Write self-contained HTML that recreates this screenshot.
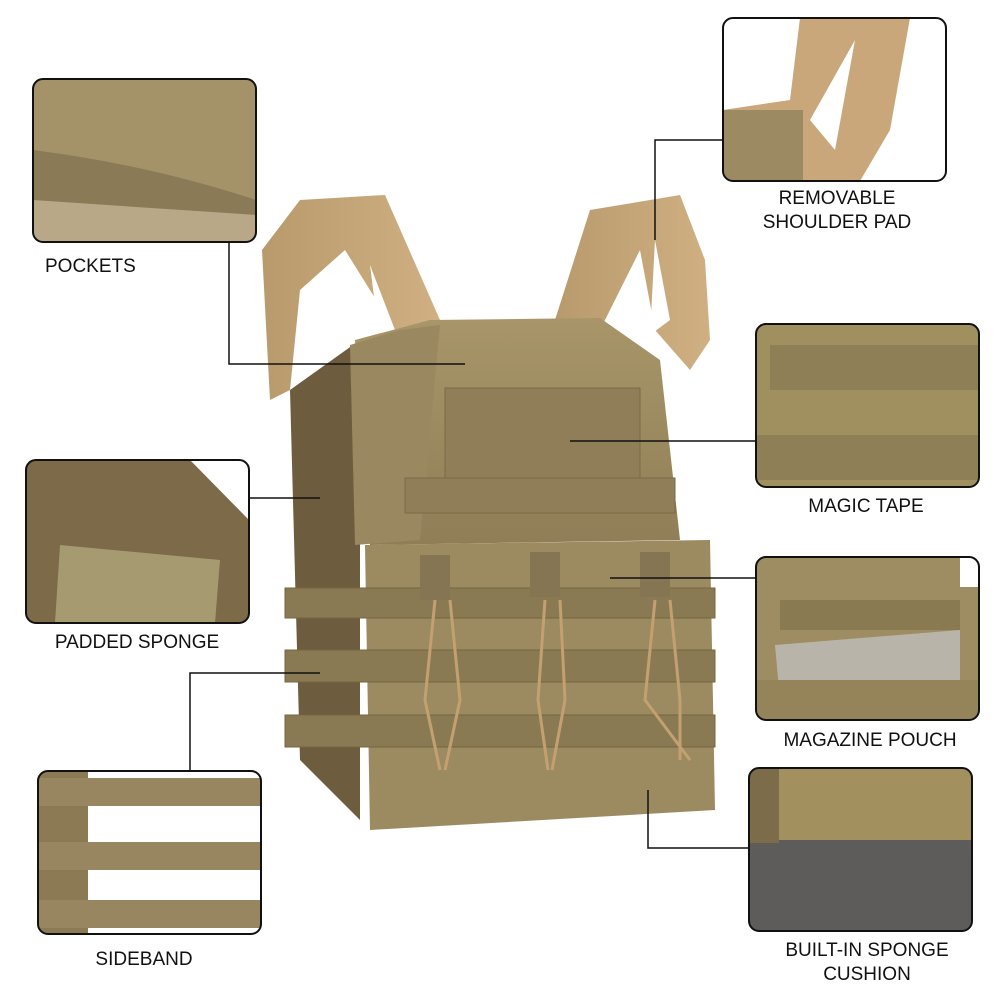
<!DOCTYPE html>
<html><head><meta charset="utf-8"><style>
html,body{margin:0;padding:0;background:#fff;}
body{width:1000px;height:1000px;position:relative;overflow:hidden;font-family:"Liberation Sans",sans-serif;}
.l{position:absolute;font-size:19px;color:#111;text-align:center;line-height:24px;white-space:nowrap;}
</style></head><body>
<svg width="1000" height="1000" style="position:absolute;left:0;top:0">
<defs>
<linearGradient id="g1" x1="0" y1="0" x2="0" y2="1"><stop offset="0" stop-color="#a8966a"/><stop offset="1" stop-color="#8f7e56"/></linearGradient>
<linearGradient id="st" x1="0" y1="0" x2="1" y2="0"><stop offset="0" stop-color="#b89a6c"/><stop offset="1" stop-color="#d0b083"/></linearGradient>
<clipPath id="c1"><rect x="33" y="79" width="223" height="163" rx="10"/></clipPath>
<clipPath id="c2"><rect x="723" y="18" width="223" height="163" rx="10"/></clipPath>
<clipPath id="c3"><rect x="756" y="324" width="223" height="163" rx="10"/></clipPath>
<clipPath id="c4"><rect x="26" y="460" width="223" height="163" rx="10"/></clipPath>
<clipPath id="c5"><rect x="756" y="557" width="223" height="163" rx="10"/></clipPath>
<clipPath id="c6"><rect x="38" y="771" width="223" height="163" rx="10"/></clipPath>
<clipPath id="c7"><rect x="749" y="768" width="223" height="163" rx="10"/></clipPath>
</defs>
<!-- vest straps -->
<path d="M262,250 L300,200 L385,195 L440,320 L395,330 L345,250 L300,290 L290,390 L270,400 Z" fill="url(#st)"/>
<path d="M555,320 L590,210 L680,195 L705,260 L710,340 L690,370 L655,330 L640,250 L600,330 Z" fill="url(#st)"/>
<path d="M370,265 L395,330 L380,345 Z M655,240 L670,320 L650,335 Z" fill="#fff"/>
<path d="M300,330 L330,360 L305,395 Z" fill="#fff"/>
<!-- side mesh -->
<path d="M290,390 L360,340 L360,820 L300,760 Z" fill="#6e5c3e"/>
<!-- back upper panel -->
<path d="M355,340 L430,320 L600,318 L660,360 L680,540 L370,545 Z" fill="url(#g1)"/>
<path d="M350,345 L400,330 L440,325 L420,540 L355,545 Z" fill="#9a8860"/>
<!-- velcro -->
<rect x="445" y="388" width="195" height="90" fill="#8f7e58" stroke="#7a6a48"/>
<rect x="405" y="478" width="270" height="35" fill="#8f7e58" stroke="#7a6a48"/>
<!-- lower pouch panel -->
<path d="M365,545 L710,540 L715,810 L370,830 Z" fill="#9c8a60"/>
<g fill="#8a7a54" stroke="#74663f">
<rect x="285" y="588" width="430" height="30"/>
<rect x="285" y="650" width="430" height="32"/>
<rect x="285" y="715" width="430" height="32"/>
</g>
<g fill="#857552"><rect x="420" y="555" width="30" height="45"/><rect x="530" y="552" width="30" height="45"/><rect x="640" y="552" width="30" height="45"/></g>
<g stroke="#c4a070" stroke-width="3" fill="none"><path d="M435,600 L425,700 L440,770 M450,600 L460,700 L445,770"/><path d="M545,600 L538,700 L548,770 M560,600 L565,700 L552,770"/><path d="M655,600 L645,700 L690,760 M670,600 L680,700 L680,760"/></g>
<!-- callout images -->
<g clip-path="url(#c1)"><rect x="33" y="79" width="223" height="163" fill="#a49268"/><path d="M33,150 Q150,165 256,200 L256,242 L33,242 Z" fill="#8a7a56"/><path d="M33,200 L256,215 L256,242 L33,242Z" fill="#b8a888"/></g>
<g clip-path="url(#c2)"><rect x="723" y="18" width="223" height="163" fill="#fff"/><path d="M723,110 L790,100 L800,18 L910,18 L890,130 L860,181 L723,181 Z" fill="#c9a77a"/><path d="M810,120 L855,40 L835,150 Z" fill="#fff"/><rect x="723" y="110" width="80" height="71" fill="#9c8a62"/></g>
<g clip-path="url(#c3)"><rect x="756" y="324" width="223" height="163" fill="#a0905f"/><rect x="770" y="345" width="209" height="45" fill="#8f7f56"/><rect x="756" y="435" width="223" height="45" fill="#8f7f56"/></g>
<g clip-path="url(#c4)"><rect x="26" y="460" width="223" height="163" fill="#7c6a48"/><path d="M60,545 L220,560 L215,623 L55,623Z" fill="#a69a70"/><path d="M190,460 L249,460 L249,520 Z" fill="#fff"/></g>
<g clip-path="url(#c5)"><rect x="756" y="557" width="223" height="163" fill="#9e8c62"/><rect x="780" y="600" width="180" height="30" fill="#8a7a52"/><path d="M775,645 L960,630 L960,690 L780,700 Z" fill="#b9b4aa"/><rect x="756" y="680" width="223" height="40" fill="#95845a"/><rect x="960" y="557" width="19" height="30" fill="#fff"/></g>
<g clip-path="url(#c6)"><rect x="38" y="771" width="223" height="163" fill="#fff"/><rect x="38" y="771" width="50" height="163" fill="#8b7a54"/><g fill="#978660"><rect x="38" y="778" width="223" height="28"/><rect x="38" y="842" width="223" height="28"/><rect x="38" y="900" width="223" height="28"/></g></g>
<g clip-path="url(#c7)"><rect x="749" y="768" width="223" height="163" fill="#a2915f"/><path d="M749,840 L972,840 L972,931 L749,931Z" fill="#5d5c5a"/><rect x="749" y="768" width="30" height="75" fill="#7c6c4a"/></g>
<g fill="none" stroke="#111" stroke-width="2">
<rect x="33" y="79" width="223" height="163" rx="10"/>
<rect x="723" y="18" width="223" height="163" rx="10"/>
<rect x="756" y="324" width="223" height="163" rx="10"/>
<rect x="26" y="460" width="223" height="163" rx="10"/>
<rect x="756" y="557" width="223" height="163" rx="10"/>
<rect x="38" y="771" width="223" height="163" rx="10"/>
<rect x="749" y="768" width="223" height="163" rx="10"/>
</g>
<g fill="none" stroke="#111" stroke-width="1.5">
<path d="M229,242 V364 H465"/>
<path d="M723,140 H655 V240"/>
<path d="M570,441 H756"/>
<path d="M249,498 H320"/>
<path d="M610,578 H756"/>
<path d="M190,771 V673 H320"/>
<path d="M648,790 V848 H749"/>
</g>
</svg>
<div class="l" style="left:45px;top:255px;text-align:left">POCKETS</div>
<div class="l" style="left:737px;top:187px;width:200px">REMOVABLE<br>SHOULDER PAD</div>
<div class="l" style="left:766px;top:495px;width:200px">MAGIC TAPE</div>
<div class="l" style="left:37px;top:631px;width:200px">PADDED SPONGE</div>
<div class="l" style="left:760px;top:729px;width:220px">MAGAZINE POUCH</div>
<div class="l" style="left:44px;top:948px;width:200px">SIDEBAND</div>
<div class="l" style="left:757px;top:939px;width:220px">BUILT-IN SPONGE<br>CUSHION</div>
</body></html>
